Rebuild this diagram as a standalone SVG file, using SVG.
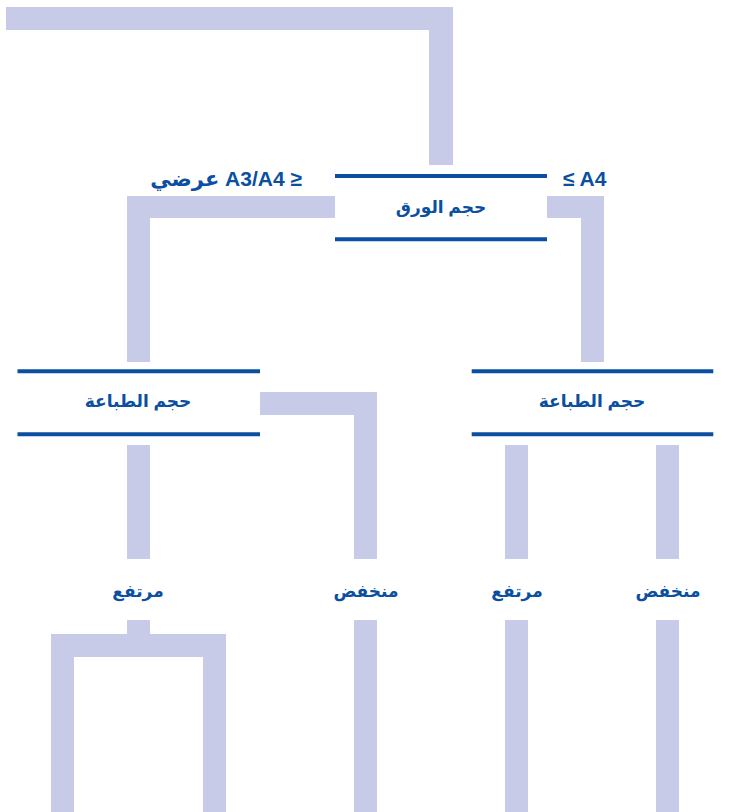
<svg xmlns="http://www.w3.org/2000/svg" width="735" height="812" viewBox="0 0 735 812">
<style>
.bar{fill:#C8CBE7}
.rule{stroke:#0B4FA0;stroke-width:4;fill:none}
.lbl{font-family:"Liberation Sans","DejaVu Sans",sans-serif;font-weight:bold;fill:#0B4FA0;font-size:17px;text-anchor:middle}
.edge{font-family:"Liberation Sans","DejaVu Sans",sans-serif;font-weight:bold;fill:#0B4FA0;font-size:21px}
</style>
<rect width="735" height="812" fill="#ffffff"/>
<g id="connectors">
<path class="bar" d="M6,7 H453 V165 H429 V30 H6 Z"/>
<path class="bar" d="M335,196 H127 V362 H150 V218 H335 Z"/>
<path class="bar" d="M547,196 H604 V362 H581 V218 H547 Z"/>
<path class="bar" d="M260,392 H377 V559 H354 V415 H260 Z"/>
<rect class="bar" x="127" y="445" width="23" height="114"/>
<rect class="bar" x="505" y="445" width="23" height="114"/>
<rect class="bar" x="656" y="445" width="23" height="114"/>
<rect class="bar" x="127" y="620" width="23" height="16"/>
<path class="bar" d="M51,812 V634 H226 V812 H203 V657 H74 V812 Z"/>
<rect class="bar" x="354" y="620" width="23" height="192"/>
<rect class="bar" x="505" y="620" width="23" height="192"/>
<rect class="bar" x="656" y="620" width="23" height="192"/>
<text class="edge" x="302" y="186" text-anchor="end">عرضي A3/A4 ≥</text>
<text class="edge" x="563" y="186" text-anchor="start">≤ A4</text>
</g>
<g id="node-paper-size">
<line class="rule" x1="335" y1="176" x2="547" y2="176"/>
<line class="rule" x1="335" y1="239.3" x2="547" y2="239.3"/>
<text class="lbl" x="441" y="213">حجم الورق</text>
</g>
<g id="node-print-volume-left">
<line class="rule" x1="17.5" y1="371.3" x2="260" y2="371.3"/>
<line class="rule" x1="17.5" y1="434.3" x2="260" y2="434.3"/>
<text class="lbl" x="138" y="407">حجم الطباعة</text>
</g>
<g id="node-print-volume-right">
<line class="rule" x1="471.7" y1="371.3" x2="713.3" y2="371.3"/>
<line class="rule" x1="471.7" y1="434.3" x2="713.3" y2="434.3"/>
<text class="lbl" x="592" y="407">حجم الطباعة</text>
</g>
<g id="node-high-left"><text class="lbl" x="138" y="597">مرتفع</text></g>
<g id="node-low-left"><text class="lbl" x="366" y="597">منخفض</text></g>
<g id="node-high-right"><text class="lbl" x="517" y="597">مرتفع</text></g>
<g id="node-low-right"><text class="lbl" x="668" y="597">منخفض</text></g>
</svg>
